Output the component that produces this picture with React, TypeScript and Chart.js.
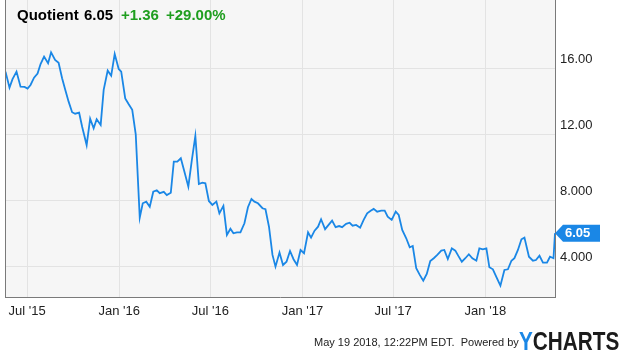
import React, { useEffect, useRef } from "react";
import { Chart, registerables } from "chart.js";

Chart.register(...registerables);

// Day offsets relative to BASE_DATE (2015-07-01), weekly closes
const BASE_DATE = "2015-07-01";
const days = [
  -43, -35, -29, -21, -13, -5, 1, 7, 14, 21,
  27, 34, 42, 48, 56, 63, 70, 76, 83, 90,
  96, 104, 110, 119, 126, 133, 139, 147, 153, 161,
  168, 175, 183, 188, 196, 203, 210, 217, 225, 231,
  238, 245, 252, 259, 265, 273, 279, 287, 293, 300,
  307, 315, 322, 329, 336, 343, 350, 356, 363, 370,
  378, 384, 392, 399, 406, 412, 419, 426, 434, 441,
  448, 454, 461, 470, 476, 483, 490, 496, 504, 511,
  518, 525, 532, 539, 546, 553, 561, 567, 574, 581,
  587, 595, 602, 609, 616, 623, 629, 637, 644, 650,
  657, 665, 672, 679, 686, 692, 699, 707, 714, 720,
  728, 736, 742, 749, 757, 764, 770, 777, 784, 791,
  798, 805, 812, 819, 827, 833, 840, 848, 855, 861,
  868, 875, 882, 889, 897, 903, 910, 917, 923, 930,
  938, 945, 953, 960, 967, 973, 980, 987, 993, 1002,
  1010, 1016, 1023, 1030, 1038, 1044, 1051, 1054,
];
const prices = [
  15.84, 14.87, 15.38, 15.84, 14.93, 14.91, 14.81, 15.03, 15.47, 15.72,
  16.30, 16.75, 16.35, 17.01, 16.55, 16.38, 15.44, 14.77, 14.02, 13.38,
  13.29, 13.35, 12.50, 11.39, 12.99, 12.41, 12.95, 12.61, 14.73, 15.90,
  15.59, 16.91, 16.00, 15.84, 14.22, 13.86, 13.52, 12.04, 6.99, 7.86,
  7.96, 7.65, 8.56, 8.65, 8.47, 8.55, 8.36, 8.50, 10.38, 10.38,
  10.59, 9.68, 8.87, 10.48, 11.94, 9.03, 9.11, 9.07, 8.00, 7.76,
  7.96, 7.25, 7.70, 5.94, 6.32, 6.04, 6.10, 6.10, 6.65, 7.62,
  8.12, 7.96, 7.86, 7.56, 7.50, 6.44, 4.73, 4.02, 4.87, 4.12,
  4.32, 4.97, 4.47, 4.12, 5.03, 4.83, 6.10, 5.78, 6.20, 6.44,
  6.89, 6.29, 6.55, 6.81, 6.41, 6.48, 6.41, 6.61, 6.68, 6.50,
  6.55, 6.38, 6.85, 7.25, 7.41, 7.52, 7.35, 7.41, 7.41, 7.05,
  6.85, 7.35, 7.15, 6.24, 5.74, 5.19, 5.27, 3.92, 3.52, 3.17,
  3.58, 4.36, 4.53, 4.73, 4.99, 5.03, 4.48, 5.13, 4.99, 4.67,
  4.32, 4.53, 4.77, 4.53, 4.38, 5.13, 5.07, 5.13, 3.98, 3.86,
  3.32, 2.87, 3.82, 3.86, 4.38, 4.53, 5.03, 5.68, 5.78, 4.62,
  4.38, 4.42, 4.68, 4.26, 4.26, 4.62, 4.53, 6.05,
];

const xTickDates = ["2015-07-01", "2016-01-01", "2016-07-01", "2017-01-01", "2017-07-01", "2018-01-01"];
const xTickLabels = ["Jul '15", "Jan '16", "Jul '16", "Jan '17", "Jul '17", "Jan '18"];
const yTicks = [4, 8, 12, 16];

const X_MIN = -44;
const X_MAX = 1054;
const Y_MIN = 2.18;
const Y_MAX = 20.18;

const titleName = "Quotient";
const titlePrice = "6.05";
const titleChange = "+1.36";
const titlePct = "+29.00%";
const footerText = "May 19 2018, 12:22PM EDT.  Powered by";

const FONT = "'Liberation Sans', Arial, sans-serif";
const LINE_BLUE = "#1a87e6";
const GREEN = "#1f9e1f";

const dayOf = (iso: string) =>
  Math.round((Date.parse(iso) - Date.parse(BASE_DATE)) / 86400000);
const xTickDays = xTickDates.map(dayOf);

const bgPlugin = {
  id: "bgPlugin",
  beforeDraw(chart: any) {
    const { ctx, chartArea } = chart;
    ctx.save();
    ctx.fillStyle = "#f6f6f6";
    ctx.fillRect(chartArea.left, chartArea.top, chartArea.right - chartArea.left, chartArea.bottom - chartArea.top);
    ctx.restore();
  },
  afterDraw(chart: any) {
    const { ctx, chartArea } = chart;
    ctx.save();
    ctx.strokeStyle = "#7a7a7a";
    ctx.lineWidth = 1;
    ctx.beginPath();
    ctx.moveTo(chartArea.left + 0.5, chartArea.top);
    ctx.lineTo(chartArea.left + 0.5, chartArea.bottom);
    ctx.stroke();
    // last price tag
    const last = prices[prices.length - 1];
    const y = chart.scales.y.getPixelForValue(last);
    const x0 = chartArea.right;
    ctx.fillStyle = LINE_BLUE;
    ctx.beginPath();
    ctx.moveTo(x0, y);
    ctx.lineTo(x0 + 8, y - 8.5);
    ctx.lineTo(x0 + 45, y - 8.5);
    ctx.lineTo(x0 + 45, y + 8.5);
    ctx.lineTo(x0 + 8, y + 8.5);
    ctx.closePath();
    ctx.fill();
    ctx.fillStyle = "#ffffff";
    ctx.font = "bold 13px " + FONT;
    ctx.textBaseline = "middle";
    ctx.textAlign = "left";
    ctx.fillText(last.toFixed(2), x0 + 10, y + 0.5);
    ctx.restore();
  },
};

export default function App() {
  const canvasRef = useRef<HTMLCanvasElement | null>(null);

  useEffect(() => {
    if (!canvasRef.current) return;
    const chart = new Chart(canvasRef.current, {
      type: "line",
      data: {
        datasets: [
          {
            label: "Quotient",
            data: days.map((d, i) => ({ x: d, y: prices[i] })),
            borderColor: LINE_BLUE,
            borderWidth: 1.8,
            pointRadius: 0,
            tension: 0,
            fill: false,
          },
        ],
      },
      options: {
        animation: false,
        responsive: false,
        maintainAspectRatio: false,
        layout: { padding: { left: 5, top: 0, right: 0, bottom: 0 } },
        plugins: { legend: { display: false }, tooltip: { enabled: false }, title: { display: false } },
        scales: {
          x: {
            type: "linear",
            min: X_MIN,
            max: X_MAX,
            afterBuildTicks: (s: any) => {
              s.ticks = xTickDays.map((v) => ({ value: v }));
            },
            afterFit: (s: any) => {
              s.height = 55;
              s.paddingLeft = 0;
              s.paddingRight = 0;
              s.paddingTop = 0;
              s.paddingBottom = 0;
            },
            grid: { color: "#e3e3e3", drawTicks: false },
            border: { display: true, color: "#7a7a7a", width: 1 },
            ticks: {
              autoSkip: false,
              maxRotation: 0,
              padding: 7,
              color: "#222",
              font: { size: 13, family: FONT },
              callback: (_v: any, i: number) => xTickLabels[i],
            },
          },
          y: {
            type: "linear",
            position: "right",
            min: Y_MIN,
            max: Y_MAX,
            afterBuildTicks: (s: any) => {
              s.ticks = yTicks.map((v) => ({ value: v }));
            },
            afterFit: (s: any) => {
              s.width = 75;
              s.paddingTop = 0;
              s.paddingBottom = 0;
              s.paddingLeft = 0;
              s.paddingRight = 0;
            },
            grid: { color: "#e3e3e3", drawTicks: false },
            border: { display: true, color: "#7a7a7a", width: 1 },
            ticks: {
              padding: 5,
              labelOffset: -10,
              color: "#222",
              font: { size: 13, family: FONT },
              callback: (v: any) => (Number(v) >= 10 ? Number(v).toFixed(2) : Number(v).toFixed(3)),
            },
          },
        },
      },
      plugins: [bgPlugin],
    } as any);
    return () => chart.destroy();
  }, []);

  const titleStyle: React.CSSProperties = {
    position: "absolute",
    top: 6,
    fontFamily: FONT,
    fontWeight: "bold",
    fontSize: 15,
    lineHeight: "18px",
    whiteSpace: "nowrap",
  };

  return (
    <div style={{ position: "fixed", left: 0, top: 0, width: 630, height: 352, background: "#fff" }}>
      <canvas ref={canvasRef} width={630} height={352} style={{ position: "absolute", left: 0, top: 0, width: 630, height: 352 }} />
      <span style={{ ...titleStyle, left: 17, color: "#000" }}>{titleName}</span>
      <span style={{ ...titleStyle, left: 84, color: "#000" }}>{titlePrice}</span>
      <span style={{ ...titleStyle, left: 121, color: GREEN }}>{titleChange}</span>
      <span style={{ ...titleStyle, left: 166, color: GREEN }}>{titlePct}</span>
      <span
        style={{
          position: "absolute",
          left: 314,
          top: 335,
          fontFamily: FONT,
          fontSize: 11,
          lineHeight: "14px",
          color: "#222",
          whiteSpace: "pre",
        }}
      >
        {footerText}
      </span>
      <span
        style={{
          position: "absolute",
          left: 519,
          top: 326,
          fontFamily: FONT,
          fontWeight: "bold",
          fontSize: 25,
          lineHeight: "30px",
          whiteSpace: "nowrap",
          transform: "scaleX(0.83)",
          transformOrigin: "left center",
          letterSpacing: 0,
        }}
      >
        <span style={{ color: "#1a87e6" }}>Y</span>
        <span style={{ color: "#1b1b1b" }}>CHARTS</span>
      </span>
    </div>
  );
}
